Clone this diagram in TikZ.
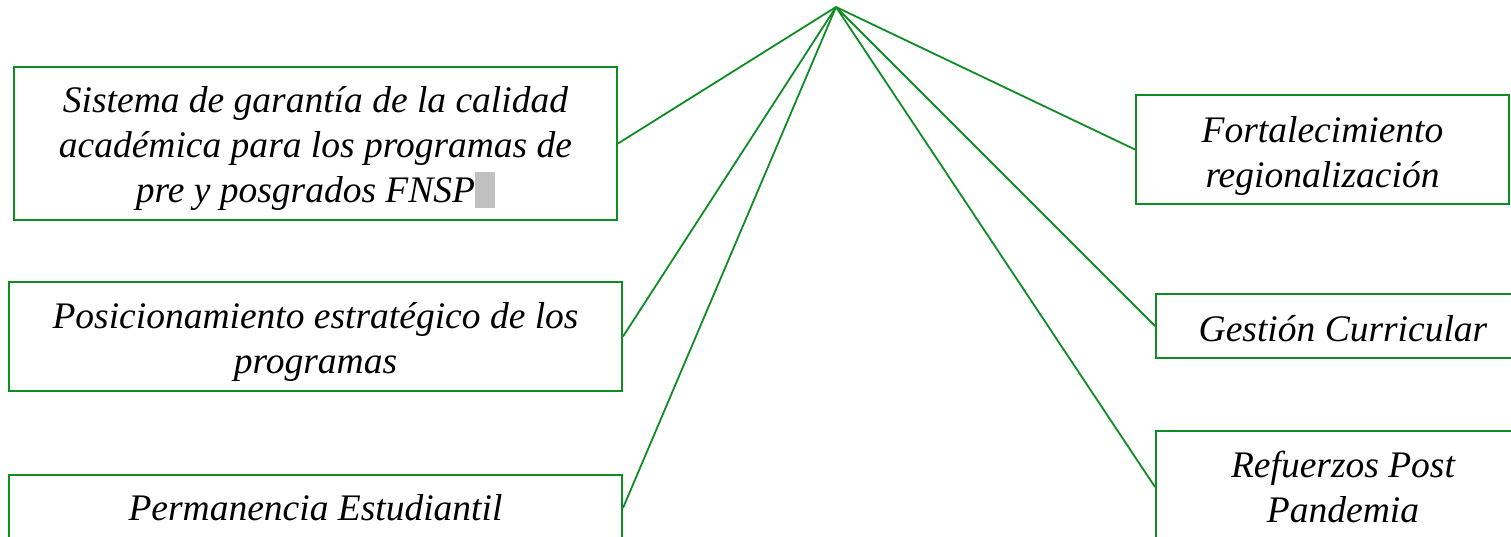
\documentclass[tikz,border=0pt]{standalone}
\usepackage{fontspec}
\setmainfont{Liberation Serif}
\definecolor{lineg}{RGB}{16,140,36}
\definecolor{hl}{RGB}{192,192,192}
\newcommand{\dropby}[2]{\raisebox{-#1}[\height][\depth]{#2}}
\begin{document}
\begin{tikzpicture}[x=1pt,y=-1pt,
  box/.style={draw=lineg,line width=2pt,fill=white,inner sep=0pt,align=center,
    font=\fontsize{37.5}{45}\selectfont\itshape},
  conn/.style={draw=lineg,line width=1.8pt}]
\useasboundingbox (0,0) rectangle (1511,536);
\coordinate (apex) at (836,7);
\node[box,minimum width=603pt,minimum height=153pt] (b1) at (315.5,143.5)
  {\dropby{5pt}{\begin{tabular}{@{}c@{}}Sistema de garantía de la calidad\\académica para los programas de\\pre y posgrados FNSP{\color{hl}\rule[-5pt]{20pt}{36pt}}\end{tabular}}};
\node[box,minimum width=613pt,minimum height=109pt] (b2) at (315.5,336.5)
  {\dropby{5pt}{\begin{tabular}{@{}c@{}}Posicionamiento estratégico de los\\programas\end{tabular}}};
\node[box,minimum width=613pt,minimum height=66pt] (b3) at (315.5,508)
  {Permanencia Estudiantil};
\node[box,minimum width=373pt,minimum height=109pt] (r1) at (1322.5,149.5)
  {\dropby{6pt}{\begin{tabular}{@{}c@{}}Fortalecimiento\\regionalización\end{tabular}}};
\node[box,minimum width=374pt,minimum height=64pt] (r2) at (1343,326)
  {\dropby{3pt}{Gestión Curricular}};
\node[box,minimum width=374pt,minimum height=112pt] (r3) at (1343,487)
  {Refuerzos Post\\Pandemia};
\draw[conn] (apex) -- (b1.east);
\draw[conn] (apex) -- (b2.east);
\draw[conn] (apex) -- (b3.east);
\draw[conn] (apex) -- (r1.west);
\draw[conn] (apex) -- (r2.west);
\draw[conn] (apex) -- (r3.west);
\end{tikzpicture}
\end{document}
